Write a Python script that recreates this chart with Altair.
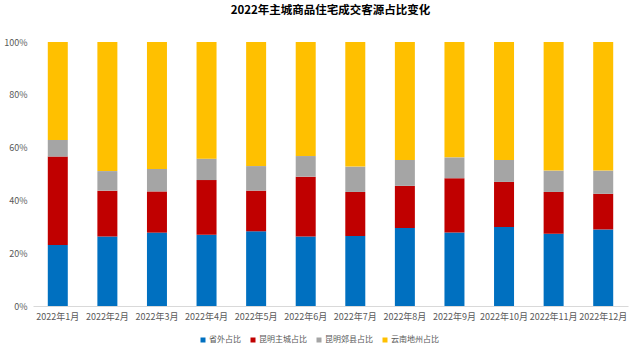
import altair as alt
import pandas as pd

months = [f"2022年{i}月" for i in range(1, 13)]
series = ["省外占比", "昆明主城占比", "昆明郊县占比", "云南地州占比"]
colors = ["#0070C0", "#C00000", "#A5A5A5", "#FFC000"]

shengwai = [23.1, 26.3, 27.8, 27.0, 28.3, 26.3, 26.5, 29.5, 27.8, 29.9, 27.4, 29.0]
zhucheng = [33.5, 17.4, 15.6, 20.7, 15.4, 22.7, 16.7, 16.0, 20.6, 17.1, 15.8, 13.5]
jiaoxian = [6.3, 7.4, 8.5, 8.1, 9.3, 7.8, 9.6, 9.8, 7.9, 8.3, 8.1, 8.8]
dizhou = [37.1, 48.9, 48.1, 44.2, 47.0, 43.2, 47.2, 44.7, 43.7, 44.7, 48.7, 48.7]

rows = []
for s_idx, (name, vals) in enumerate(zip(series, [shengwai, zhucheng, jiaoxian, dizhou])):
    for m, v in zip(months, vals):
        rows.append({"月份": m, "类别": name, "值": v, "序": s_idx})
df = pd.DataFrame(rows)

FONT = "Noto Sans CJK SC"

chart = alt.Chart(df).mark_bar(size=20).encode(
    x=alt.X("月份:N", sort=months, title=None,
            scale=alt.Scale(paddingInner=0.6, paddingOuter=0.3),
            axis=alt.Axis(labelAngle=0, ticks=False, labelFontSize=9, labelColor="#595959",
                          domainColor="#D9D9D9", labelPadding=6, labelFont=FONT)),
    y=alt.Y("值:Q", stack="normalize", title=None,
            axis=alt.Axis(format=".0%", values=[0, 0.2, 0.4, 0.6, 0.8, 1.0], grid=False,
                          ticks=False, domain=False, labelFontSize=9, labelColor="#595959",
                          labelPadding=6, labelFont=FONT)),
    color=alt.Color("类别:N", sort=series,
                    scale=alt.Scale(domain=series, range=colors),
                    legend=alt.Legend(title=None, orient="none", direction="horizontal",
                                      legendX=166, legendY=294, symbolType="square",
                                      symbolSize=25, labelFontSize=8, labelColor="#595959",
                                      labelOffset=2, columnPadding=8,
                                      symbolStrokeWidth=0, labelFont=FONT)),
    order=alt.Order("序:Q", sort="ascending"),
).properties(
    width=595, height=264,
    title=alt.TitleParams("2022年主城商品住宅成交客源占比变化", fontSize=11.5, fontWeight="bold",
                          font=FONT, color="#000000", anchor="middle", offset=22),
    autosize=alt.AutoSizeParams(type="none"),
    padding={"left": 33, "top": 42, "right": 12, "bottom": 45},
).configure_view(stroke=None)

chart.save("out.html", embed_options={"renderer": "svg", "actions": False})
